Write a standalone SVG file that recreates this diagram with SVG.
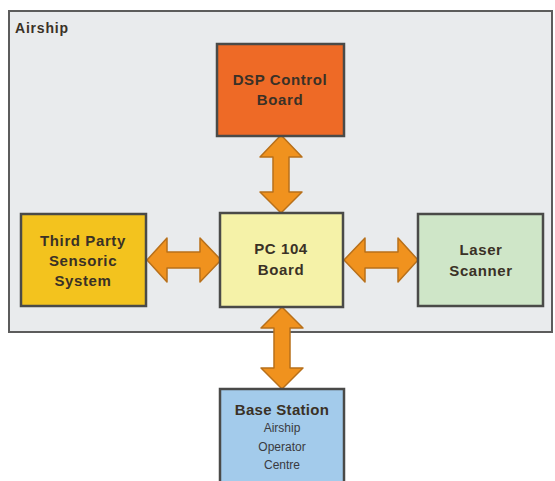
<svg xmlns="http://www.w3.org/2000/svg" width="555" height="481" viewBox="0 0 555 481">
<style>
.box{stroke:#4a4a48;stroke-width:2.5}
.t{font-family:"Liberation Sans",Arial,sans-serif;font-weight:bold;font-size:15px;letter-spacing:0.6px;fill:#3a3126;text-anchor:middle}
.s{font-family:"Liberation Sans",Arial,sans-serif;font-size:12px;fill:#3a3a40;text-anchor:middle}
.arr{fill:#f0921e;stroke:#b8701a;stroke-width:1.5;stroke-linejoin:round}
</style>
<rect width="555" height="481" fill="#ffffff"/>
<g id="airship">
<rect x="9" y="11" width="543" height="321" fill="#e9ebed" stroke="#5c5c5c" stroke-width="2"/>
<text x="15" y="33" class="t" style="text-anchor:start;font-size:14px;letter-spacing:0.8px">Airship</text>
</g>
<g id="connectors">
<path class="arr" d="M281,135 L302,157 L289,157 L289,192 L302,192 L281,213 L260,192 L273,192 L273,157 L260,157 Z"/>
<path class="arr" d="M147,260 L167,238 L167,252 L200,252 L200,238 L221,260 L200,282 L200,268 L167,268 L167,282 Z"/>
<path class="arr" d="M344,260 L365,238 L365,252 L398,252 L398,238 L418,260 L398,282 L398,268 L365,268 L365,282 Z"/>
<path class="arr" d="M282,307 L303,328 L290,328 L290,368 L303,368 L282,389 L261,368 L274,368 L274,328 L261,328 Z"/>
</g>
<g id="dsp">
<rect class="box" x="217" y="44" width="127" height="92" fill="#ee6a26"/>
<text class="t" x="280" y="85">DSP Control</text>
<text class="t" x="280" y="105">Board</text>
</g>
<g id="thirdparty">
<rect class="box" x="21" y="214" width="125" height="92" fill="#f3c31e"/>
<text class="t" x="83" y="246">Third Party</text>
<text class="t" x="83" y="266">Sensoric</text>
<text class="t" x="83" y="286">System</text>
</g>
<g id="pc104">
<rect class="box" x="220" y="213" width="123" height="94" fill="#f5f2a8"/>
<text class="t" x="281" y="254">PC 104</text>
<text class="t" x="281" y="275">Board</text>
</g>
<g id="laser">
<rect class="box" x="418" y="214" width="125" height="92" fill="#cfe6c8"/>
<text class="t" x="481" y="255">Laser</text>
<text class="t" x="481" y="276">Scanner</text>
</g>
<g id="basestation">
<rect class="box" x="220" y="389" width="124" height="95" fill="#a3cbeb"/>
<text class="t" x="282" y="415" style="letter-spacing:0.3px">Base Station</text>
<text class="s" x="282" y="432">Airship</text>
<text class="s" x="282" y="451">Operator</text>
<text class="s" x="282" y="469">Centre</text>
</g>
</svg>
